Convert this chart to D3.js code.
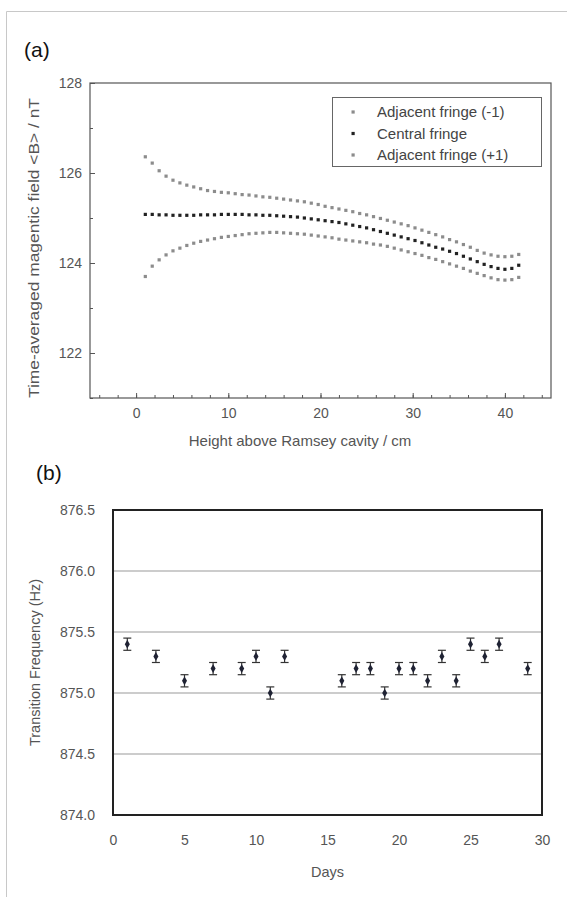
<!DOCTYPE html>
<html>
<head>
<meta charset="utf-8">
<script src="https://cdn.jsdelivr.net/npm/d3@7"></script>
<style>
  body { margin: 0; background: #fff; }
  svg { display: block; font-family: "Liberation Sans", Arial, sans-serif; }
</style>
</head>
<body>
<svg id="chart" width="567" height="897"></svg>
<script>
// panel (a): field vs height
const heights = [1, 1.75, 2.5, 3.25, 4, 4.75, 5.5, 6.25, 7, 7.75, 8.5, 9.25, 10, 10.75, 11.5,
  12.25, 13, 13.75, 14.5, 15.25, 16, 16.75, 17.5, 18.25, 19, 19.75, 20.5, 21.25, 22, 22.75,
  23.5, 24.25, 25, 25.75, 26.5, 27.25, 28, 28.75, 29.5, 30.25, 31, 31.75, 32.5, 33.25, 34,
  34.75, 35.5, 36.25, 37, 37.75, 38.5, 39.25, 40, 40.75, 41.5];

const fringeMinus = [126.36, 126.22, 126.05, 125.93, 125.84, 125.78, 125.73, 125.69, 125.65, 125.61,
  125.59, 125.57, 125.56, 125.54, 125.52, 125.51, 125.49, 125.47, 125.46, 125.44, 125.42, 125.40,
  125.38, 125.36, 125.33, 125.30, 125.26, 125.23, 125.20, 125.17, 125.14, 125.10, 125.07, 125.03,
  124.99, 124.95, 124.91, 124.87, 124.83, 124.78, 124.73, 124.68, 124.63, 124.58, 124.52, 124.47,
  124.41, 124.35, 124.28, 124.22, 124.18, 124.15, 124.14, 124.15, 124.19];

const fringeCentral = [125.08, 125.08, 125.07, 125.07, 125.06, 125.06, 125.06, 125.06, 125.07, 125.07,
  125.07, 125.08, 125.08, 125.08, 125.08, 125.07, 125.07, 125.06, 125.06, 125.05, 125.04, 125.03,
  125.02, 125.00, 124.98, 124.96, 124.94, 124.92, 124.90, 124.87, 124.84, 124.81, 124.78, 124.74,
  124.70, 124.66, 124.62, 124.58, 124.54, 124.50, 124.45, 124.40, 124.35, 124.31, 124.26, 124.21,
  124.15, 124.09, 124.03, 123.97, 123.92, 123.88, 123.86, 123.88, 123.95];

const fringePlus = [123.70, 123.93, 124.07, 124.18, 124.27, 124.33, 124.39, 124.44, 124.48, 124.51,
  124.54, 124.57, 124.59, 124.61, 124.63, 124.65, 124.66, 124.67, 124.68, 124.68, 124.67, 124.66,
  124.65, 124.64, 124.62, 124.60, 124.58, 124.56, 124.53, 124.51, 124.49, 124.47, 124.45, 124.42,
  124.40, 124.37, 124.33, 124.29, 124.25, 124.21, 124.17, 124.12, 124.08, 124.03, 123.98, 123.93,
  123.88, 123.82, 123.77, 123.72, 123.67, 123.63, 123.62, 123.63, 123.68];

const seriesNames = ["Adjacent fringe (-1)", "Central fringe", "Adjacent fringe (+1)"];
const seriesColors = ["#8c8c8c", "#222222", "#8c8c8c"];

const aXTicks = [0, 10, 20, 30, 40];
const aYTicks = [122, 124, 126, 128];

// panel (b): transition frequency vs day
const days = [1, 3, 5, 7, 9, 10, 11, 12, 16, 17, 18, 19, 20, 21, 22, 23, 24, 25, 26, 27, 29];
const freqs = [875.4, 875.3, 875.1, 875.2, 875.2, 875.3, 875.0, 875.3, 875.1, 875.2, 875.2,
  875.0, 875.2, 875.2, 875.1, 875.3, 875.1, 875.4, 875.3, 875.4, 875.2];
const freqErr = 0.05;

const bXTicks = [0, 5, 10, 15, 20, 25, 30];
const bYTicks = [874.0, 874.5, 875.0, 875.5, 876.0, 876.5];

const svg = d3.select("#chart");

// outer border of the figure
svg.append("path")
  .attr("d", "M6.5,897 V11.5 H567")
  .attr("fill", "none")
  .attr("stroke", "#c8c8c8");

// ---------- panel (a) ----------
function panelA() {
  const box = { left: 90, right: 551, top: 83, bottom: 398 };

  const x = d3.scaleLinear().domain([-5, 45]).range([box.left, box.right]);
  const y = d3.scaleLinear().domain([121, 128]).range([box.bottom, box.top]);

  const g = svg.append("g");

  g.append("text")
    .attr("x", 24).attr("y", 57)
    .attr("font-size", 21).attr("fill", "#111")
    .text("(a)");

  // minor ticks
  g.append("g")
    .attr("transform", `translate(0,${box.bottom})`)
    .call(d3.axisBottom(x).tickValues(d3.range(-4, 45, 2)).tickSize(-3).tickFormat(""))
    .call(s => s.select(".domain").remove());
  g.append("g")
    .attr("transform", `translate(${box.left},0)`)
    .call(d3.axisLeft(y).tickValues([121, 123, 125, 127]).tickSize(-3).tickFormat(""))
    .call(s => s.select(".domain").remove());

  const xAxis = g.append("g")
    .attr("transform", `translate(0,${box.bottom})`)
    .call(d3.axisBottom(x).tickValues(aXTicks).tickSize(-5).tickPadding(10).tickFormat(d3.format("d")));
  xAxis.select(".domain").remove();

  const yAxis = g.append("g")
    .attr("transform", `translate(${box.left},0)`)
    .call(d3.axisLeft(y).tickValues(aYTicks).tickSize(-5).tickPadding(8).tickFormat(d3.format("d")));
  yAxis.select(".domain").remove();

  g.selectAll(".tick line").attr("stroke", "#555");
  g.selectAll(".tick text").attr("font-size", 14).attr("fill", "#555")
    .attr("font-family", "Liberation Sans, Arial, sans-serif");

  g.append("rect")
    .attr("x", box.left).attr("y", box.top)
    .attr("width", box.right - box.left).attr("height", box.bottom - box.top)
    .attr("fill", "none").attr("stroke", "#555").attr("stroke-width", 1.2);

  // data
  const all = [fringeMinus, fringeCentral, fringePlus];
  all.forEach((vals, k) => {
    g.append("g").selectAll("rect")
      .data(vals.map((v, i) => [heights[i], v]))
      .join("rect")
        .attr("x", d => x(d[0]) - 1.6)
        .attr("y", d => y(d[1]) - 1.6)
        .attr("width", 3.2).attr("height", 3.2)
        .attr("fill", seriesColors[k]);
  });

  // legend
  const lg = g.append("g");
  lg.append("rect")
    .attr("x", 332.5).attr("y", 97.5).attr("width", 209).attr("height", 69)
    .attr("fill", "#fff").attr("stroke", "#666");
  seriesNames.forEach((name, i) => {
    const cy = 112 + i * 21.5;
    lg.append("rect")
      .attr("x", 351.5).attr("y", cy - 1.6).attr("width", 3.2).attr("height", 3.2)
      .attr("fill", seriesColors[i]);
    lg.append("text")
      .attr("x", 377).attr("y", cy + 5)
      .attr("font-size", 15).attr("fill", "#444")
      .text(name);
  });

  // axis titles
  g.append("text")
    .attr("transform", `translate(39,248) rotate(-90)`)
    .attr("text-anchor", "middle")
    .attr("font-size", 14).attr("fill", "#555")
    .attr("textLength", 300).attr("lengthAdjust", "spacingAndGlyphs")
    .text("Time-averaged magentic field <B> / nT");

  g.append("text")
    .attr("x", 300).attr("y", 446)
    .attr("text-anchor", "middle")
    .attr("font-size", 15).attr("fill", "#555")
    .text("Height above Ramsey cavity / cm");
}

// ---------- panel (b) ----------
function panelB() {
  const box = { left: 113, right: 542, top: 510, bottom: 815 };

  const x = d3.scaleLinear().domain([0, 30]).range([box.left, box.right]);
  const y = d3.scaleLinear().domain([874, 876.5]).range([box.bottom, box.top]);

  const g = svg.append("g");

  g.append("text")
    .attr("x", 36).attr("y", 480)
    .attr("font-size", 21).attr("fill", "#111")
    .text("(b)");

  // grid lines
  g.append("g").selectAll("line")
    .data(bYTicks.filter(v => v > 874 && v < 876.5))
    .join("line")
      .attr("x1", box.left).attr("x2", box.right)
      .attr("y1", d => y(d)).attr("y2", d => y(d))
      .attr("stroke", "#9a9a9a").attr("stroke-width", 1.2);

  const xAxis = g.append("g")
    .attr("transform", `translate(0,${box.bottom})`)
    .call(d3.axisBottom(x).tickValues(bXTicks).tickSize(0).tickPadding(20));
  xAxis.select(".domain").remove();

  const yAxis = g.append("g")
    .attr("transform", `translate(${box.left},0)`)
    .call(d3.axisLeft(y).tickValues(bYTicks).tickSize(0).tickPadding(18).tickFormat(d3.format(".1f")));
  yAxis.select(".domain").remove();

  g.selectAll(".tick text").attr("font-size", 14).attr("fill", "#555")
    .attr("font-family", "Liberation Sans, Arial, sans-serif");

  g.append("rect")
    .attr("x", box.left).attr("y", box.top)
    .attr("width", box.right - box.left).attr("height", box.bottom - box.top)
    .attr("fill", "none").attr("stroke", "#222").attr("stroke-width", 2);

  const pts = days.map((d, i) => ({ day: d, f: freqs[i] }));

  const eb = g.append("g").attr("stroke", "#333").attr("stroke-width", 1.2);
  eb.selectAll(".bar").data(pts).join("line")
    .attr("x1", d => x(d.day)).attr("x2", d => x(d.day))
    .attr("y1", d => y(d.f - freqErr)).attr("y2", d => y(d.f + freqErr));
  eb.selectAll(".capTop").data(pts).join("line")
    .attr("x1", d => x(d.day) - 4).attr("x2", d => x(d.day) + 4)
    .attr("y1", d => y(d.f + freqErr)).attr("y2", d => y(d.f + freqErr));
  eb.selectAll(".capBot").data(pts).join("line")
    .attr("x1", d => x(d.day) - 4).attr("x2", d => x(d.day) + 4)
    .attr("y1", d => y(d.f - freqErr)).attr("y2", d => y(d.f - freqErr));

  g.append("g").selectAll("path")
    .data(pts)
    .join("path")
      .attr("transform", d => `translate(${x(d.day)},${y(d.f)})`)
      .attr("d", d3.symbol(d3.symbolDiamond, 22))
      .attr("fill", "#1f2233");

  g.append("text")
    .attr("transform", `translate(40,${(box.top + box.bottom) / 2}) rotate(-90)`)
    .attr("text-anchor", "middle")
    .attr("font-size", 14.5).attr("fill", "#555")
    .text("Transition Frequency (Hz)");

  g.append("text")
    .attr("x", (box.left + box.right) / 2).attr("y", 877)
    .attr("text-anchor", "middle")
    .attr("font-size", 14.5).attr("fill", "#555")
    .text("Days");
}

panelA();
panelB();
</script>
</body>
</html>
